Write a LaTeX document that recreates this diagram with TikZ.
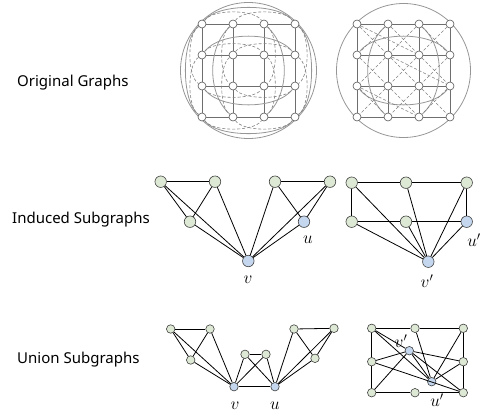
\documentclass[tikz,border=0pt]{standalone}
\usepackage{fontspec}
\setmainfont{Noto Sans}
\definecolor{gfill}{RGB}{221,233,212}
\definecolor{bfill}{RGB}{196,215,238}
\definecolor{tgray}{RGB}{110,110,110}
\definecolor{cgray}{RGB}{150,150,150}
\definecolor{dgray}{RGB}{130,130,130}
\begin{document}
\begin{tikzpicture}[x=1pt,y=-1pt,
  wn/.style={circle,draw=tgray!80!black,fill=white,minimum size=8pt,inner sep=0pt,line width=0.6pt},
  gn/.style={circle,draw=black!75,fill=gfill,minimum size=11.5pt,inner sep=0pt,line width=0.6pt},
  bn/.style={circle,draw=black!75,fill=bfill,minimum size=11.5pt,inner sep=0pt,line width=0.6pt},
  sgn/.style={gn,minimum size=8.5pt},
  sbn/.style={bn,minimum size=8.5pt},
  gl/.style={draw=tgray,line width=0.7pt},
  cl/.style={draw=cgray,line width=0.8pt},
  dl/.style={draw=dgray,line width=0.6pt,dash pattern=on 3pt off 2pt},
  el/.style={draw=black,line width=0.8pt},
  lab/.style={font=\fontsize{15}{18}\selectfont,anchor=west,inner sep=0pt},
  ml/.style={inner sep=0pt,font=\LARGE}]
\useasboundingbox (0,0) rectangle (482,413);

% ---------- labels ----------
\node[lab] (t1) at (17,83) {Original Graphs};
\node[lab] (t2) at (12,220) {Induced Subgraphs};
\node[lab] (t3) at (17,360) {Union Subgraphs};

% ---------- top-left graph ----------
\draw[cl] (248.5,70.5) circle (68);
\foreach \i/\x in {1/202,2/233,3/264,4/295}{
  \foreach \j/\y in {1/24,2/55,3/86,4/117}{
    \node[wn] (L\i\j) at (\x,\y) {};
  }
}
\foreach \j in {1,...,4}{
  \draw[gl] (L1\j) -- (L2\j) -- (L3\j) -- (L4\j);
  \draw[gl] (L\j1) -- (L\j2) -- (L\j3) -- (L\j4);
}
% wrap arcs
\draw[cl] (L12) .. controls (220,31) and (277,31) .. (L42);
\draw[cl] (L13) .. controls (220,110) and (277,110) .. (L43);
\draw[cl] (L21) .. controls (207,47) and (207,94) .. (L24);
\draw[cl] (L31) .. controls (290,47) and (290,94) .. (L34);
\draw[cl] (L11) .. controls (217,3) and (280,3) .. (L41);
\draw[cl] (L14) .. controls (217,138) and (280,138) .. (L44);
\draw[cl] (L11) .. controls (181,39) and (181,102) .. (L14);
\draw[cl] (L41) .. controls (316,39) and (316,102) .. (L44);
% dashed crossings
\draw[dl] (L11) .. controls (212,9) and (254,9) .. (L31);
\draw[dl] (L21) .. controls (243,9) and (285,9) .. (L41);
\draw[dl] (L14) .. controls (212,132) and (254,132) .. (L34);
\draw[dl] (L24) .. controls (243,132) and (285,132) .. (L44);
\draw[dl] (L11) .. controls (187,34) and (187,76) .. (L13);
\draw[dl] (L12) .. controls (187,65) and (187,107) .. (L14);
\draw[dl] (L41) .. controls (310,34) and (310,76) .. (L43);
\draw[dl] (L42) .. controls (310,65) and (310,107) .. (L44);
\draw[dl] (L12) .. controls (212,41) and (254,41) .. (L32);
\draw[dl] (L22) .. controls (243,41) and (285,41) .. (L42);
\draw[dl] (L13) .. controls (212,100) and (254,100) .. (L33);
\draw[dl] (L23) .. controls (243,100) and (285,100) .. (L43);
\draw[dl] (L21) .. controls (219,34) and (219,76) .. (L23);
\draw[dl] (L22) .. controls (219,65) and (219,107) .. (L24);
\draw[dl] (L31) .. controls (278,34) and (278,76) .. (L33);
\draw[dl] (L32) .. controls (278,65) and (278,107) .. (L34);

% ---------- top-right graph ----------
\draw[cl] (403.5,70.5) circle (67);
\foreach \i/\x in {1/357,2/388,3/419,4/450}{
  \foreach \j/\y in {1/24,2/55,3/86,4/117}{
    \node[wn] (R\i\j) at (\x,\y) {};
  }
}
\foreach \j in {1,...,4}{
  \draw[gl] (R1\j) -- (R2\j) -- (R3\j) -- (R4\j);
  \draw[gl] (R\j1) -- (R\j2) -- (R\j3) -- (R\j4);
}
\draw[cl] (R12) .. controls (375,31) and (432,31) .. (R42);
\draw[cl] (R13) .. controls (375,110) and (432,110) .. (R43);
\draw[cl] (R21) .. controls (362,47) and (362,94) .. (R24);
\draw[cl] (R31) .. controls (445,47) and (445,94) .. (R34);
\foreach \a/\b/\c/\d in {1/1/2/2,2/1/1/2,2/1/3/2,3/1/2/2,3/1/4/2,4/1/3/2,
                         1/2/2/3,2/2/1/3,2/2/3/3,3/2/2/3,3/2/4/3,4/2/3/3,
                         1/3/2/4,2/3/1/4,2/3/3/4,3/3/2/4,3/3/4/4,4/3/3/4,
                         1/1/3/2,2/2/4/3,1/3/3/4}{
  \draw[dl] (R\a\b) -- (R\c\d);
}

% ---------- induced subgraphs, left ----------
\node[gn] (A) at (160.7,181.7) {};
\node[gn] (B) at (215,181.7) {};
\node[gn] (C) at (190,221.7) {};
\node[bn] (v1) at (248.3,261) {};
\node[gn] (D) at (275,181.7) {};
\node[bn] (u1) at (304,221.7) {};
\node[gn] (E) at (330,181.7) {};
\draw[el] (A) -- (B);
\draw[el] (A) -- (C);
\draw[el] (A) -- (v1);
\draw[el] (B) -- (C);
\draw[el] (B) -- (v1);
\draw[el] (C) -- (v1);
\draw[el] (D) -- (E);
\draw[el] (D) -- (v1);
\draw[el] (D) -- (u1);
\draw[el] (E) -- (u1);
\draw[el] (E) -- (v1);
\draw[el] (u1) -- (v1);
\node[ml] (lu1) at (308,240) {$u$};
\node[ml] (lv1) at (248,280) {$v$};

% ---------- induced subgraphs, right ----------
\node[gn] (F) at (351.7,182.7) {};
\node[gn] (G) at (406,182.7) {};
\node[gn] (H) at (466.7,182.7) {};
\node[gn] (I) at (351.7,221.7) {};
\node[gn] (J) at (406,221.7) {};
\node[bn] (u2) at (466.7,221.7) {};
\node[bn] (v2) at (428.3,261.7) {};
\draw[el] (F) -- (G);
\draw[el] (G) -- (H);
\draw[el] (F) -- (I);
\draw[el] (H) -- (u2);
\draw[el] (I) -- (J);
\draw[el] (J) -- (u2);
\draw[el] (F) -- (v2);
\draw[el] (G) -- (v2);
\draw[el] (H) -- (v2);
\draw[el] (I) -- (v2);
\draw[el] (J) -- (v2);
\draw[el] (u2) -- (v2);
\node[ml] (lu2) at (474,240) {$u'$};
\node[ml] (lv2) at (427,281) {$v'$};

% ---------- union subgraphs, left ----------
\node[sgn] (a) at (170.7,329) {};
\node[sgn] (b) at (210,329) {};
\node[sgn] (c) at (190.7,360) {};
\node[sbn] (v3) at (234,386.7) {};
\node[sgn] (d) at (245,354.3) {};
\node[sgn] (e) at (266,354.3) {};
\node[sbn] (u3) at (275,386.7) {};
\node[sgn] (f) at (294,329) {};
\node[sgn] (g) at (315,358.3) {};
\node[sgn] (h) at (334,328.3) {};
\draw[el] (a) -- (b);
\draw[el] (a) -- (c);
\draw[el] (a) -- (v3);
\draw[el] (b) -- (c);
\draw[el] (b) -- (v3);
\draw[el] (c) -- (v3);
\draw[el] (d) -- (e);
\draw[el] (d) -- (v3);
\draw[el] (e) -- (v3);
\draw[el] (d) -- (u3);
\draw[el] (e) -- (u3);
\draw[el] (v3) -- (u3);
\draw[el] (f) -- (h);
\draw[el] (f) -- (g);
\draw[el] (f) -- (u3);
\draw[el] (h) -- (g);
\draw[el] (h) -- (u3);
\draw[el] (g) -- (u3);
\node[ml] (lv3) at (235,406) {$v$};
\node[ml] (lu3) at (275,406) {$u$};

% ---------- union subgraphs, right ----------
\node[sgn] (p1) at (371.7,328.3) {};
\node[sgn] (p2) at (415,328.3) {};
\node[sgn] (p3) at (463.3,328.3) {};
\node[sgn] (p4) at (371.7,361.7) {};
\node[sgn] (p5) at (463.3,361.7) {};
\node[sgn] (p6) at (371.7,392.7) {};
\node[sgn] (p7) at (415,392.7) {};
\node[sgn] (p8) at (463.3,392.7) {};
\node[sbn] (v4) at (409.3,350.7) {};
\node[sbn] (u4) at (431.7,381.7) {};
\draw[el] (p1) -- (p2);
\draw[el] (p2) -- (p3);
\draw[el] (p3) -- (p5);
\draw[el] (p5) -- (p8);
\draw[el] (p8) -- (p7);
\draw[el] (p7) -- (p6);
\draw[el] (p6) -- (p4);
\draw[el] (p4) -- (p1);
\draw[el] (p1) -- (v4);
\draw[el] (p1) -- (u4);
\draw[el] (p4) -- (v4);
\draw[el] (p4) -- (p8);
\draw[el] (p6) -- (v4);
\draw[el] (p2) -- (u4);
\draw[el] (p3) -- (u4);
\draw[el] (p5) -- (v4);
\draw[el] (p5) -- (u4);
\draw[el] (v4) -- (u4);
\draw[el] (v4) -- (p8);
\node[ml] (lv4) at (401,341) {$v'$};
\node[ml] (lu4) at (437,400) {$u'$};
\end{tikzpicture}
\end{document}
